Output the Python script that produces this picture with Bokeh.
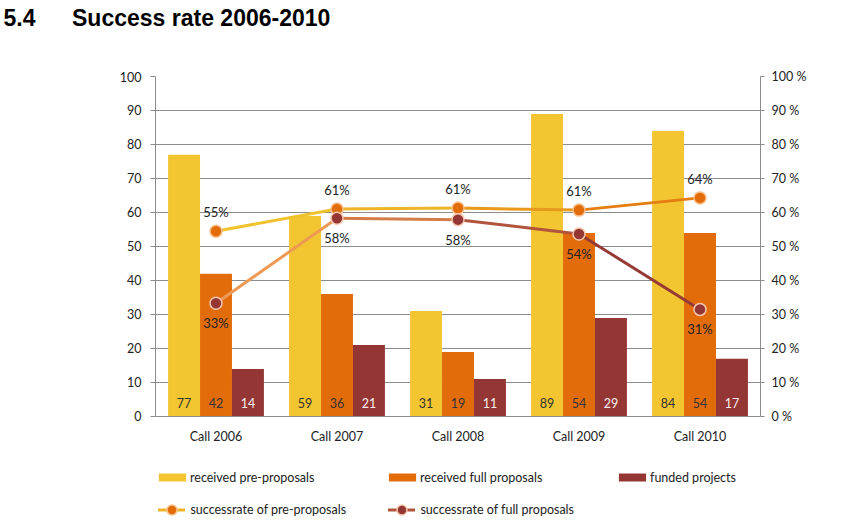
from bokeh.plotting import figure
from bokeh.models import (FactorRange, Range1d, LinearAxis, FixedTicker,
                          PrintfTickFormatter, ColumnDataSource,
                          LabelSet, Legend, LegendItem, Title)
from bokeh.transform import dodge
from bokeh.core.properties import value
from bokeh.embed import file_html
from bokeh.resources import INLINE

# ---- data ----
calls = ["Call 2006", "Call 2007", "Call 2008", "Call 2009", "Call 2010"]
pre_proposals = [77, 59, 31, 89, 84]
full_proposals = [42, 36, 19, 54, 54]
funded = [14, 21, 11, 29, 17]
rate_pre = [54.5, 61.0, 61.3, 60.7, 64.3]
rate_full = [33.3, 58.3, 57.9, 53.7, 31.5]
rate_pre_labels = ["55%", "61%", "61%", "61%", "64%"]
rate_full_labels = ["33%", "58%", "58%", "54%", "31%"]
y_ticks = [0, 10, 20, 30, 40, 50, 60, 70, 80, 90, 100]
legend_labels = ["received pre-proposals", "received full proposals",
                 "funded projects", "successrate of pre-proposals",
                 "successrate of full proposals"]
title_num = "5.4"
title_text = "Success rate 2006-2010"

# ---- styles / layout ----
FONT = "Lato"
TFONT = "Liberation Sans"
C_PRE = "#F2C531"
C_FULL = "#E36C0A"
C_FUND = "#943634"
SEG_PRE = ["#F0C32E", "#EDB427", "#E9991C", "#E57D10"]
SEG_FULL = ["#EE9A55", "#D47C48", "#B0553C", "#963A35"]
MK_PRE_LINE = "#F8C08C"
MK_FULL_LINE = "#F4C8B0"
GRID = "#8C8C8C"
TXT = "#222222"
BW = 0.264
Y_BOTTOM = -32.06   # frame extends below zero to hold the legend

src = ColumnDataSource(dict(call=calls, pre=pre_proposals, full=full_proposals,
                            fund=funded,
                            pre_s=[str(v) for v in pre_proposals],
                            full_s=[str(v) for v in full_proposals],
                            fund_s=[str(v) for v in funded],
                            zero=[0] * len(calls)))
lsrc = ColumnDataSource(dict(call=calls, rp=rate_pre, rf=rate_full,
                             rpl=rate_pre_labels, rfl=rate_full_labels))
seg_pre = ColumnDataSource(dict(x0=calls[:-1], x1=calls[1:], y0=rate_pre[:-1],
                                y1=rate_pre[1:], c=SEG_PRE))
seg_full = ColumnDataSource(dict(x0=calls[:-1], x1=calls[1:], y0=rate_full[:-1],
                                 y1=rate_full[1:], c=SEG_FULL))

p = figure(x_range=FactorRange(*calls), y_range=Range1d(Y_BOTTOM, 100),
           width=844, height=525, output_backend="svg", toolbar_location=None,
           min_border_left=155, min_border_right=84, min_border_top=76,
           min_border_bottom=0)
p.extra_y_ranges = {"pct": Range1d(Y_BOTTOM, 100)}
p.outline_line_color = None

# title: a blank spacer next to the frame, then the heading above it
spacer = Title(text="\u00a0", text_font_size="21px", text_font=TFONT,
               align="left")
spacer.standoff = 19
p.add_layout(spacer, "above")
head = Title(text=title_num + "\u00a0" * 5 + "\u2009" + title_text,
             align="left", offset=-152, text_font=TFONT,
             text_font_style="bold", text_font_size="23px",
             text_color="#000000")
head.standoff = 4
p.add_layout(head, "above")

# left axis
p.yaxis.ticker = FixedTicker(ticks=y_ticks)
p.yaxis.bounds = (0, 100)
p.yaxis.axis_line_color = GRID
p.yaxis.major_tick_line_color = GRID
p.yaxis.major_tick_out = 5
p.yaxis.major_tick_in = 0
p.yaxis.minor_tick_line_color = None
p.yaxis.major_label_standoff = 9
p.yaxis.major_label_text_font = FONT
p.yaxis.major_label_text_font_size = "12.5px"
p.yaxis.major_label_text_color = TXT

# right axis
ra = LinearAxis(y_range_name="pct", ticker=FixedTicker(ticks=y_ticks),
                formatter=PrintfTickFormatter(format="%d %%"), bounds=(0, 100))
ra.axis_line_color = GRID
ra.major_tick_line_color = GRID
ra.major_tick_out = 4
ra.major_tick_in = 0
ra.minor_tick_line_color = None
ra.major_label_standoff = 7
ra.major_label_text_font = FONT
ra.major_label_text_font_size = "12.5px"
ra.major_label_text_color = TXT
p.add_layout(ra, "right")

# category axis pinned at zero
p.xaxis.fixed_location = 0
p.xaxis.axis_line_color = GRID
p.xaxis.major_tick_line_color = None
p.xaxis.minor_tick_line_color = None
p.xaxis.major_label_standoff = 7
p.xaxis.major_label_text_font = FONT
p.xaxis.major_label_text_font_size = "12.5px"
p.xaxis.major_label_text_color = TXT

p.xgrid.grid_line_color = None
p.ygrid.grid_line_color = GRID
p.ygrid.ticker = FixedTicker(ticks=y_ticks)
p.x_range.range_padding = 0

# bars
r_pre = p.vbar(x=dodge("call", -BW, range=p.x_range), top="pre", width=BW,
               source=src, fill_color=C_PRE, line_color=None)
r_full = p.vbar(x=dodge("call", 0, range=p.x_range), top="full", width=BW,
                source=src, fill_color=C_FULL, line_color=None)
r_fund = p.vbar(x=dodge("call", BW, range=p.x_range), top="fund", width=BW,
                source=src, fill_color=C_FUND, line_color=None)

for off, col, colr in [(-BW, "pre_s", "#333333"), (0, "full_s", "#333333"),
                       (BW, "fund_s", "#F8EEEE")]:
    p.add_layout(LabelSet(x=dodge("call", off, range=p.x_range), y="zero",
                          text=col, source=src, y_offset=13,
                          text_align="center", text_baseline="middle",
                          text_font=value(FONT), text_font_size="12.5px",
                          text_color=colr))

# rate lines
l_pre = p.segment(x0="x0", y0="y0", x1="x1", y1="y1", line_color="c",
                  line_width=3, line_cap="round", source=seg_pre,
                  y_range_name="pct")
l_full = p.segment(x0="x0", y0="y0", x1="x1", y1="y1", line_color="c",
                   line_width=3, line_cap="round", source=seg_full,
                   y_range_name="pct")
m_pre = p.scatter(x="call", y="rp", source=lsrc, size=12, fill_color=C_FULL,
                  line_color=MK_PRE_LINE, line_width=1.5, y_range_name="pct")
m_full = p.scatter(x="call", y="rf", source=lsrc, size=12, fill_color=C_FUND,
                   line_color=MK_FULL_LINE, line_width=1.5, y_range_name="pct")

p.add_layout(LabelSet(x="call", y="rp", text="rpl", source=lsrc, y_offset=19,
                      text_align="center", text_baseline="middle",
                      text_font=value(FONT), text_font_size="13px",
                      text_color=TXT, y_range_name="pct"))
p.add_layout(LabelSet(x="call", y="rf", text="rfl", source=lsrc, y_offset=-20,
                      text_align="center", text_baseline="middle",
                      text_font=value(FONT), text_font_size="13px",
                      text_color=TXT, y_range_name="pct"))

# legends (inside the extended frame, below the category axis)
common = dict(orientation="horizontal", spacing=0, padding=0, margin=0,
              border_line_color=None, background_fill_alpha=0,
              label_text_font=FONT, label_text_font_size="12.5px",
              label_text_color=TXT)
leg_bars = Legend(items=[
    LegendItem(label=legend_labels[0], renderers=[r_pre]),
    LegendItem(label=legend_labels[1], renderers=[r_full]),
    LegendItem(label=legend_labels[2], renderers=[r_fund]),
], location=(0, 40), glyph_width=34, glyph_height=10, label_standoff=1,
    label_width=195, label_height=16, **common)
leg_lines = Legend(items=[
    LegendItem(label=legend_labels[3], renderers=[l_pre, m_pre], index=1),
    LegendItem(label=legend_labels[4], renderers=[l_full, m_full], index=2),
], location=(3.4, 3.5), glyph_width=27, glyph_height=25, label_standoff=5,
    label_width=198, label_height=16, **common)
p.add_layout(leg_bars, "center")
p.add_layout(leg_lines, "center")

open("out.html", "w").write(file_html(p, INLINE))
